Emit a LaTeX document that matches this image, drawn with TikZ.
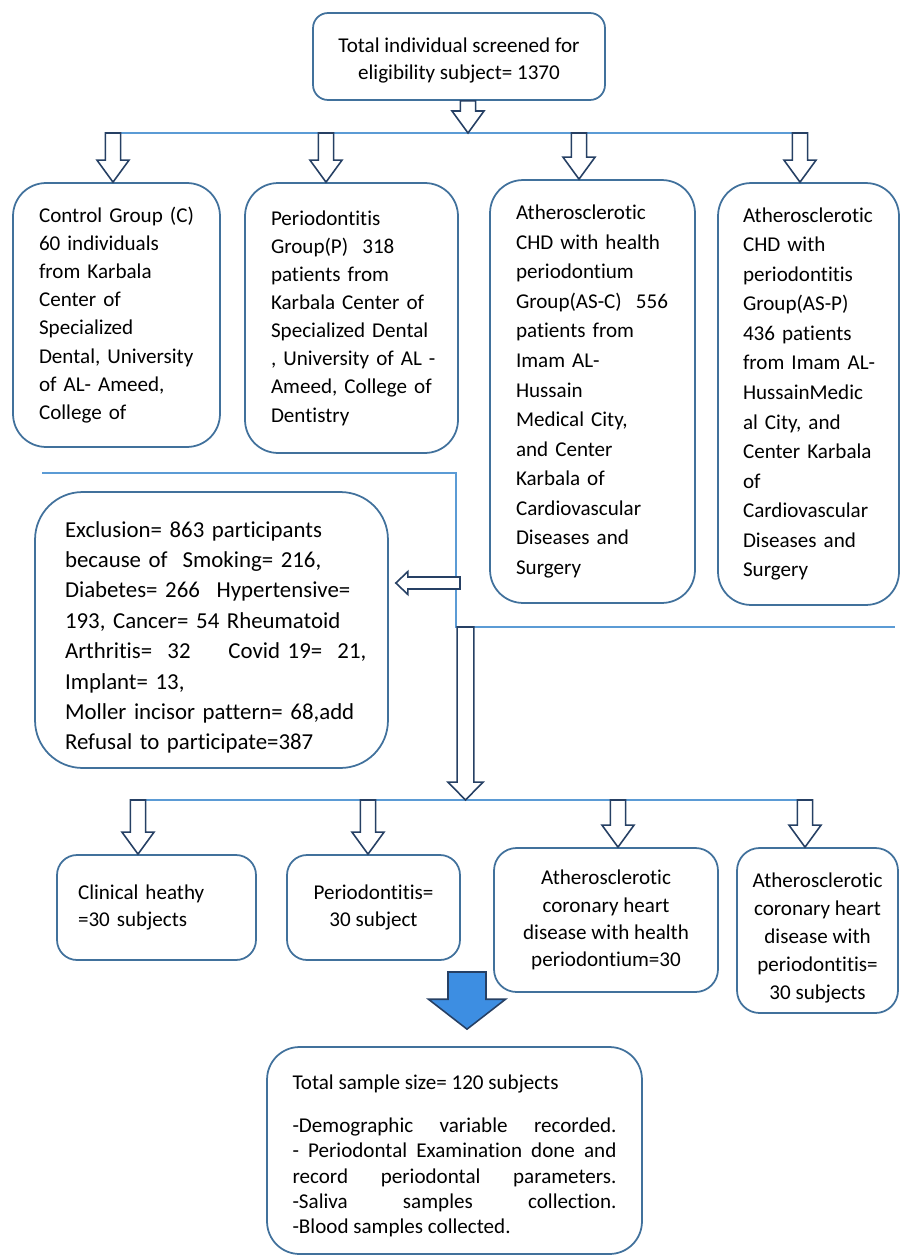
\documentclass[tikz,border=0pt]{standalone}
\usepackage{fontspec}
\setmainfont{Carlito}[Ligatures=NoCommon]
\usetikzlibrary{positioning,calc}

\definecolor{boxblue}{RGB}{65,113,156}
\definecolor{lineblue}{RGB}{91,155,213}
\definecolor{arrownavy}{RGB}{38,64,100}
\definecolor{fillblue}{RGB}{61,142,226}

% block arrow pointing down: [style]{from}{tip}{half shaft}{half head}{head length}
\newcommand{\blockdown}[6][hollow]{%
  \draw[#1] let \p1=(#2), \p2=(#3) in
    (\x1-#4,\y1) -- (\x1-#4,\y2+#6) -- (\x1-#5,\y2+#6) -- (\x1,\y2)
    -- (\x1+#5,\y2+#6) -- (\x1+#4,\y2+#6) -- (\x1+#4,\y1) -- cycle;}

\begin{document}
\begin{tikzpicture}[x=0.02cm, y=-0.02cm,
    box/.style={draw=boxblue, line width=1pt, rounded corners=#1, inner sep=0pt, fill=white,
        execute at begin node={\hyphenpenalty=10000 \exhyphenpenalty=10000 }},
    box/.default=0.6cm,
    conn/.style={draw=lineblue, line width=0.7pt},
    hollow/.style={draw=arrownavy, fill=white, line width=0.9pt},
    bluearrow/.style={draw=arrownavy, fill=fillblue, line width=0.9pt}]
    \useasboundingbox (0,0) rectangle (901,1257);

    % screening
    \node[box=0.3cm, minimum width=5.84cm, minimum height=1.74cm, align=center,
          font=\fontsize{12}{15.3}\selectfont] (top) at (459,56.5)
          {\rule{0pt}{13pt}Total individual screened for\\eligibility subject= 1370};

    % groups
    \node[box=0.66cm, minimum width=4.14cm, minimum height=5.28cm, text width=3.1cm, align=left,
          font=\fontsize{12}{16}\selectfont] (grpc) at (116.5,315)
          {Control~Group~(C)\\60~individuals\\from~Karbala\\Center~of\\Specialized\\Dental,~University\\of~AL-~Ameed,\\College~of};
    \node[box=0.66cm, minimum width=4.26cm, minimum height=5.4cm, text width=3.22cm, align=left,
          font=\fontsize{12}{16}\selectfont] (grpp) at (351.5,318)
          {Periodontitis\\Group(P)~~318\\patients~from\\Karbala~Center~of\\Specialized~Dental\\,~University~of~AL~-\\Ameed,~College~of\\Dentistry};
    \node[box=0.66cm, minimum width=4.1cm, minimum height=8.46cm, text width=3.06cm, align=left,
          font=\fontsize{12}{16.8}\selectfont] (grpasc) at (592.5,391.5)
          {Atherosclerotic\\CHD~with~health\\periodontium\\Group(AS-C)~~556\\patients~from\\Imam~AL-\\Hussain\\Medical~City,\\and~Center\\Karbala~of\\Cardiovascular\\Diseases~and\\Surgery};
    \node[box=0.66cm, minimum width=3.62cm, minimum height=8.44cm, text width=2.62cm, align=left,
          font=\fontsize{12}{16.8}\selectfont] (grpasp) at (808.5,394)
          {Atherosclerotic\\CHD~with\\periodontitis\\Group(AS-P)\\436~patients\\from~Imam~AL-\\HussainMedic\\al~City,~and\\Center~Karbala\\of\\Cardiovascular\\Diseases~and\\Surgery};

    % exclusion
    \node[box=0.95cm, minimum width=7.06cm, minimum height=5.52cm, text width=5.86cm, align=left,
          font=\fontsize{13}{17.3}\selectfont] (excl) at (211.5,630)
          {\rule{0pt}{17.5pt}Exclusion=~863~participants\\because~of\kern8.5pt Smoking=~216,\\Diabetes=~266\kern9.5pt Hypertensive=\\193,~Cancer=~54~Rheumatoid\\Arthritis=~~32\kern21.5pt Covid~19=~~21,\\Implant=~13,\\Moller~incisor~pattern=~68,add\\Refusal~to~participate=387};

    % selected
    \node[box=0.4cm, minimum width=3.98cm, minimum height=2.1cm, text width=3.14cm, align=left,
          font=\fontsize{12}{15.8}\selectfont] (selc) at (156.5,907.5)
          {Clinical~heathy\\=30~subjects};
    \node[box=0.4cm, minimum width=3.46cm, minimum height=2.1cm, align=center,
          font=\fontsize{12}{15.8}\selectfont] (selp) at (373.5,907.5)
          {Periodontitis=\\30 subject};
    \node[box=0.45cm, minimum width=4.48cm, minimum height=2.88cm, align=center,
          font=\fontsize{12}{15.5}\selectfont] (selasc) at (606,920)
          {Atherosclerotic\\coronary heart\\disease with health\\periodontium=30};
    \node[box=0.45cm, minimum width=3.22cm, minimum height=3.3cm, align=center,
          font=\fontsize{12}{16}\selectfont] (selasp) at (817.5,930.5)
          {\rule{0pt}{17pt}Atherosclerotic\\coronary heart\\disease with\\periodontitis=\\30 subjects};

    % total
    \node[box=0.65cm, minimum width=7.5cm, minimum height=4.14cm, text width=6.48cm, align=justify,
          font=\fontsize{12}{14.4}\selectfont] (total) at (454.5,1150.5)
          {\noindent\rule{0pt}{14.7pt}Total sample size= 120 subjects\par\vspace{10pt}\noindent
           -Demographic variable recorded.\linebreak
           - Periodontal Examination done and\linebreak
           record periodontal parameters.\linebreak
           -Saliva samples collection.\linebreak
           -Blood samples collected.};

    % split lines
    \coordinate (split1) at (468,133);
    \coordinate (l1a) at (106,133);
    \coordinate (l1b) at (807,133);
    \coordinate (l1c) at (113,133);
    \coordinate (l1p) at (326,133);
    \coordinate (l1asc) at (579,133);
    \coordinate (l1asp) at (800,133);
    \draw[conn] (l1a) -- (l1b);
    \blockdown{split1 |- top.south}{split1}{4.3pt}{9.1pt}{12.5pt}
    \foreach \g in {c,p,asc,asp}{
        \blockdown{l1\g}{l1\g |- grp\g.north}{4.3pt}{9.1pt}{12.5pt}
    }

    \coordinate (m1) at (42,473);
    \coordinate (m2) at (456,473);
    \coordinate (m3) at (456,627);
    \coordinate (m4) at (895,627);
    \draw[conn] (m1) -- (m2) -- (m3) -- (m4);
    \coordinate (exclin) at (460,583);
    \draw[hollow] let \p1=(exclin), \p2=($(excl.east |- exclin)+(7,0)$) in
        (\x1,\y1+3.4pt) -- (\x2+6.8pt,\y1+3.4pt) -- (\x2+6.8pt,\y1+6.5pt) -- (\x2,\y1)
        -- (\x2+6.8pt,\y1-6.5pt) -- (\x2+6.8pt,\y1-3.4pt) -- (\x1,\y1-3.4pt) -- cycle;

    \coordinate (drop) at (465.5,627);
    \coordinate (l2a) at (131,800);
    \coordinate (l2b) at (813,800);
    \coordinate (l2c) at (138,800);
    \coordinate (l2p) at (368,800);
    \coordinate (l2asc) at (618,800);
    \coordinate (l2asp) at (805,800);
    \draw[conn] (l2a) -- (l2b);
    \blockdown{drop}{drop |- l2a}{4.8pt}{10pt}{10.2pt}
    \foreach \g in {c,p,asc,asp}{
        \blockdown{l2\g}{l2\g |- sel\g.north}{4.3pt}{9.1pt}{12.5pt}
    }

    \coordinate (bluetop) at (467,972);
    \blockdown[bluearrow]{bluetop}{$(bluetop |- total.north)+(0,-17)$}{10.8pt}{21.9pt}{17pt}
\end{tikzpicture}
\end{document}
